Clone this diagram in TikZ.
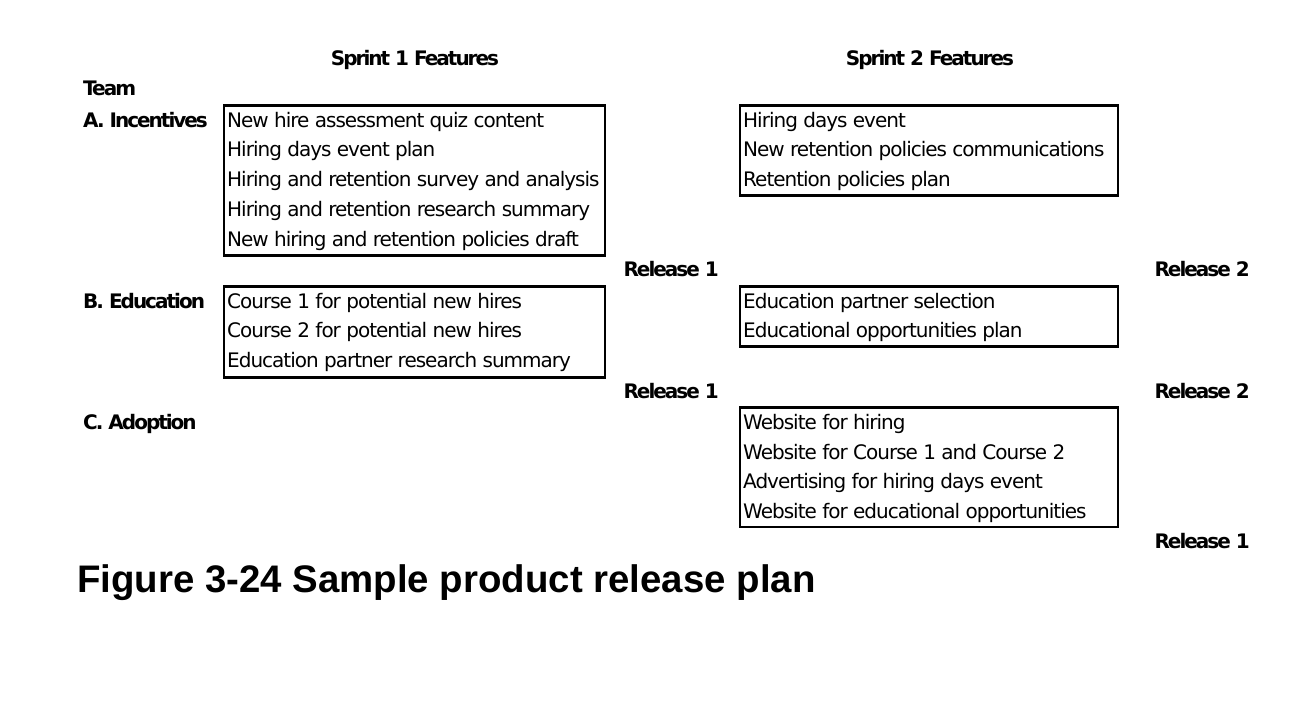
\documentclass[tikz,border=0pt]{standalone}
\usepackage{fontspec}
\newfontfamily\regfont{DejaVu Sans}[LetterSpace=-5]
\newfontfamily\boldfont{DejaVu Sans Bold}[LetterSpace=-10]
\newfontfamily\titlefont{Liberation Sans Bold}
\begin{document}
\begin{tikzpicture}[x=1pt,y=-1pt,
  box/.style={draw=black,line width=2.3pt,rectangle,inner sep=0pt,anchor=north west},
  item/.style={anchor=base west,inner sep=0pt,font=\fontsize{20}{24}\regfont},
  lbl/.style={anchor=base west,inner sep=0pt,font=\fontsize{20}{24}\boldfont},
  rel/.style={anchor=base east,inner sep=0pt,font=\fontsize{20}{24}\boldfont},
  hdr/.style={anchor=base,inner sep=0pt,font=\fontsize{20}{24}\boldfont},
  ttl/.style={anchor=base west,inner sep=0pt,font=\fontsize{38.4}{44}\titlefont}]
\useasboundingbox (0,0) rectangle (1312,708);
\fill[white] (0,0) rectangle (1312,708);

% headers
\node[hdr] (h1) at (415,66) {Sprint 1 Features};
\node[hdr] (h2) at (930,66) {Sprint 2 Features};
\node[lbl] (team) at (83,96) {Team};
\node[lbl] (ta) at (83,127.3) {A. Incentives};
\node[lbl] (tb) at (83,308.3) {B. Education};
\node[lbl] (tc) at (83,429.3) {C. Adoption};

% boxes
\node[box,minimum width=381,minimum height=150] (a1) at (222.5,104.5) {};
\node[box,minimum width=378,minimum height=90] (a2) at (738.5,104.5) {};
\node[box,minimum width=381,minimum height=91] (b1) at (222.5,285.5) {};
\node[box,minimum width=378,minimum height=60] (b2) at (738.5,285.5) {};
\node[box,minimum width=378,minimum height=119] (c2) at (738.5,406.5) {};

% A1 items
\node[item] (a11) at (227,127.3) {New hire assessment quiz content};
\node[item] (a12) at (227,157) {Hiring days event plan};
\node[item] (a13) at (227,186.8) {Hiring and retention survey and analysis};
\node[item] (a14) at (227,216.6) {Hiring and retention research summary};
\node[item] (a15) at (227,246.3) {New hiring and retention policies draft};
% A2 items
\node[item] (a21) at (743,127.3) {Hiring days event};
\node[item] (a22) at (743,157) {New retention policies communications};
\node[item] (a23) at (743,186.8) {Retention policies plan};
% B1 items
\node[item] (b11) at (227,308.3) {Course 1 for potential new hires};
\node[item] (b12) at (227,338) {Course 2 for potential new hires};
\node[item] (b13) at (227,367.8) {Education partner research summary};
% B2 items
\node[item] (b21) at (743,308.3) {Education partner selection};
\node[item] (b22) at (743,338) {Educational opportunities plan};
% C2 items
\node[item] (c21) at (743,429.3) {Website for hiring};
\node[item] (c22) at (743,459) {Website for Course 1 and Course 2};
\node[item] (c23) at (743,488.8) {Advertising for hiring days event};
\node[item] (c24) at (743,518.5) {Website for educational opportunities};

% releases
\node[rel] (r1a) at (719,276.7) {Release 1};
\node[rel] (r2a) at (1250,276.7) {Release 2};
\node[rel] (r1b) at (719,398.7) {Release 1};
\node[rel] (r2b) at (1250,398.7) {Release 2};
\node[rel] (r1c) at (1250,548.7) {Release 1};

% title
\node[ttl] (title) at (77,592) {Figure 3-24 Sample product release plan};
\end{tikzpicture}
\end{document}
